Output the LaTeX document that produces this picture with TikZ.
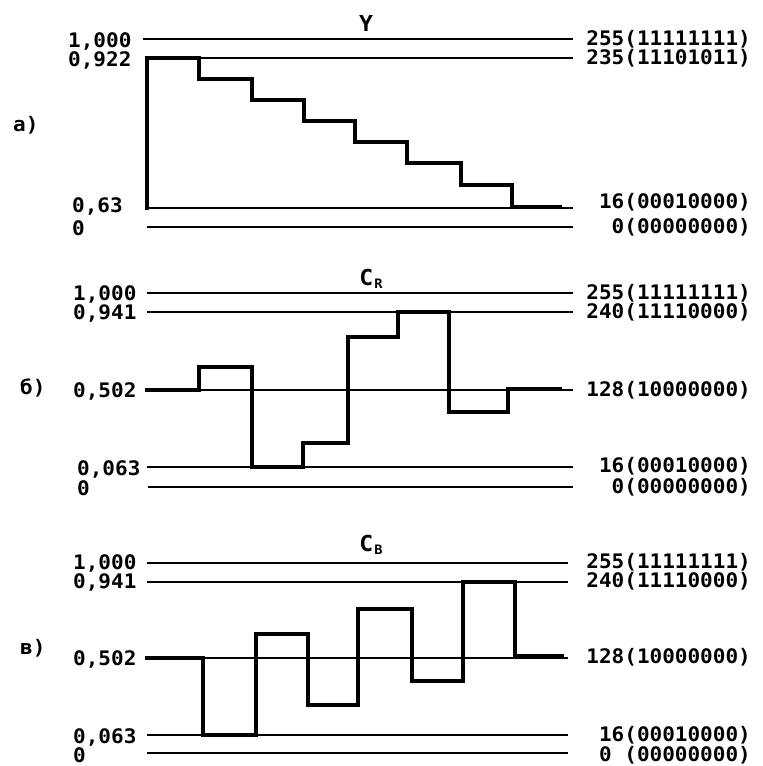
\documentclass[tikz,border=0pt]{standalone}
\usepackage{fontspec}
\setmainfont[FakeStretch=1.05]{DejaVu Sans Mono}
\begin{document}
\begin{tikzpicture}[x=1pt,y=-1pt,
  lvl/.style={line width=1.9pt},
  sig/.style={line width=4.2pt,line join=miter,line cap=rect},
  lab/.style={font=\fontsize{20}{20}\selectfont\bfseries,inner sep=0pt},
  pan/.style={font=\fontsize{20}{20}\selectfont\bfseries,inner sep=0pt,anchor=west},
  ttl/.style={font=\fontsize{22}{22}\selectfont\bfseries,inner sep=0pt}]
\useasboundingbox (0,0) rectangle (763,766);
\fill[white] (0,0) rectangle (763,766);

% ---------------- panel a ----------------
\node[ttl] (ta) at (366,23) {Y};
\node[pan] (pa) at (13,125) {а)};
\coordinate (a1L) at (143,39);  \coordinate (a1R) at (573,39);
\coordinate (a2L) at (147,58);  \coordinate (a2R) at (573,58);
\coordinate (a3L) at (147,208); \coordinate (a3R) at (573,208);
\coordinate (a4L) at (147,227); \coordinate (a4R) at (573,227);
\draw[lvl] (a1L) -- (a1R);
\draw[lvl] (a2L) -- (a2R);
\draw[lvl] (a3L) -- (a3R);
\draw[lvl] (a4L) -- (a4R);
\node[lab,anchor=west] (a1l) at (68,41) {1,000};
\node[lab,anchor=west] (a2l) at (68,60) {0,922};
\node[lab,anchor=west] (a3l) at (72,206) {0,63};
\node[lab,anchor=west] (a4l) at (72,228) {0};
\node[lab,anchor=east] (a1r) at (751,39) {255(11111111)};
\node[lab,anchor=east] (a2r) at (751,58) {235(11101011)};
\node[lab,anchor=east] (a3r) at (751,202) {16(00010000)};
\node[lab,anchor=east] (a4r) at (751,227) {0(00000000)};
\draw[sig] (a3L) -- (a2L) -- (199,58) -- (199,79) -- (252,79) -- (252,100)
  -- (304,100) -- (304,121) -- (355,121) -- (355,142) -- (407,142) -- (407,163)
  -- (461,163) -- (461,185) -- (512,185) -- (512,207) -- (560,207);

% ---------------- panel b ----------------
\node[ttl] (tb) at (371,279) {C\kern1pt\raisebox{-3pt}{\fontsize{13}{13}\selectfont R}};
\node[pan] (pb) at (20,388) {б)};
\coordinate (b1L) at (147,293); \coordinate (b1R) at (573,293);
\coordinate (b2L) at (147,312); \coordinate (b2R) at (573,312);
\coordinate (b3L) at (147,390); \coordinate (b3R) at (573,390);
\coordinate (b4L) at (147,467); \coordinate (b4R) at (573,467);
\coordinate (b5L) at (148,487); \coordinate (b5R) at (573,487);
\draw[lvl] (b1L) -- (b1R);
\draw[lvl] (b2L) -- (b2R);
\draw[lvl] (b3L) -- (b3R);
\draw[lvl] (b4L) -- (b4R);
\draw[lvl] (b5L) -- (b5R);
\node[lab,anchor=west] (b1l) at (73,294) {1,000};
\node[lab,anchor=west] (b2l) at (73,313) {0,941};
\node[lab,anchor=west] (b3l) at (73,391) {0,502};
\node[lab,anchor=west] (b4l) at (77,469) {0,063};
\node[lab,anchor=west] (b5l) at (77,488) {0};
\node[lab,anchor=east] (b1r) at (751,293) {255(11111111)};
\node[lab,anchor=east] (b2r) at (751,312) {240(11110000)};
\node[lab,anchor=east] (b3r) at (751,390) {128(10000000)};
\node[lab,anchor=east] (b4r) at (751,466) {16(00010000)};
\node[lab,anchor=east] (b5r) at (751,487) {0(00000000)};
\draw[sig] (b3L) -- (199,390) -- (199,367) -- (252,367) -- (252,467) -- (303,467)
  -- (303,443) -- (348,443) -- (348,337) -- (398,337) -- (398,312) -- (449,312)
  -- (449,412) -- (508,412) -- (508,389) -- (560,389);

% ---------------- panel c ----------------
\node[ttl] (tc) at (371,545) {C\kern1pt\raisebox{-3pt}{\fontsize{13}{13}\selectfont B}};
\node[pan] (pc) at (20,648) {в)};
\coordinate (c1L) at (147,563); \coordinate (c1R) at (568,563);
\coordinate (c2L) at (147,582); \coordinate (c2R) at (568,582);
\coordinate (c3L) at (147,658); \coordinate (c3R) at (568,658);
\coordinate (c4L) at (147,735); \coordinate (c4R) at (568,735);
\coordinate (c5L) at (147,753); \coordinate (c5R) at (568,753);
\draw[lvl] (c1L) -- (c1R);
\draw[lvl] (c2L) -- (c2R);
\draw[lvl] (c3L) -- (c3R);
\draw[lvl] (c4L) -- (c4R);
\draw[lvl] (c5L) -- (c5R);
\node[lab,anchor=west] (c1l) at (73,563) {1,000};
\node[lab,anchor=west] (c2l) at (73,582) {0,941};
\node[lab,anchor=west] (c3l) at (73,659) {0,502};
\node[lab,anchor=west] (c4l) at (73,737) {0,063};
\node[lab,anchor=west] (c5l) at (73,755) {0};
\node[lab,anchor=east] (c1r) at (751,562) {255(11111111)};
\node[lab,anchor=east] (c2r) at (751,581) {240(11110000)};
\node[lab,anchor=east] (c3r) at (751,657) {128(10000000)};
\node[lab,anchor=east] (c4r) at (751,735) {16(00010000)};
\node[lab,anchor=east] (c5r) at (751,755) {0 (00000000)};
\draw[sig] (c3L) -- (203,658) -- (203,735) -- (256,735) -- (256,634) -- (308,634)
  -- (308,705) -- (358,705) -- (358,609) -- (412,609) -- (412,681) -- (463,681)
  -- (463,582) -- (515,582) -- (515,656) -- (562,656);
\end{tikzpicture}
\end{document}
